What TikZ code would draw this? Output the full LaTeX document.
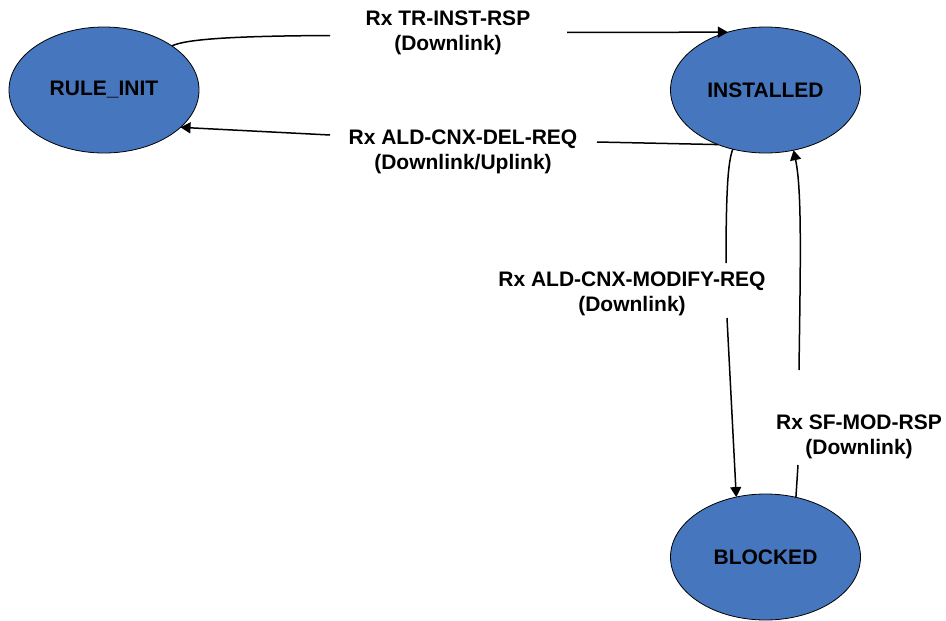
\documentclass[tikz,border=0pt]{standalone}
\usepackage{fontspec}
\setmainfont{Liberation Sans}
\usetikzlibrary{arrows.meta,shapes.geometric}
\definecolor{stateblue}{RGB}{70,119,190}
\begin{document}
\begin{tikzpicture}[x=1pt,y=-1pt,
  state/.style={ellipse,draw=black,line width=0.8pt,fill=stateblue,
    minimum width=190pt,minimum height=126pt,inner sep=0pt,outer sep=0pt,
    font=\bfseries\fontsize{21}{25}\selectfont},
  lbl/.style={align=center,inner sep=0pt,font=\bfseries\fontsize{21}{25}\selectfont},
  link/.style={line width=1.5pt,black},
  arr/.style={link,-{Triangle[length=10pt,width=11pt]}}]
\useasboundingbox (0,0) rectangle (946,621);

% states
\node[state] (ri)   at (104,90)    {RULE\_INIT};
\node[state] (inst) at (765.5,90)  {INSTALLED};
\node[state] (blk)  at (765.5,557) {BLOCKED};

% transition labels
\node[lbl] (l1) at (448,33)  {Rx TR-INST-RSP\\(Downlink)};
\node[lbl] (l2) at (463,152) {Rx ALD-CNX-DEL-REQ\\(Downlink/Uplink)};
\node[lbl] (l3) at (632,294) {Rx ALD-CNX-MODIFY-REQ\\(Downlink)};
\node[lbl] (l4) at (859,437) {Rx SF-MOD-RSP\\(Downlink)};

% ends of the line pieces on either side of each label
\coordinate (a1) at (330,35.5);
\coordinate (b1) at (567,32.5);
\coordinate (a2) at (597,142);
\coordinate (b2) at (330,135);
\coordinate (a3) at (726,263);
\coordinate (b3) at (727,318);
\coordinate (a4) at (798,465);
\coordinate (b4) at (799,370);

% RULE_INIT -> INSTALLED
\draw[link] (ri.33.5) .. controls (186,39) and (235,36) .. (a1);
\draw[arr]  (b1) -- (inst.123.3);

% INSTALLED -> RULE_INIT
\draw[link] (inst.229.2) -- (a2);
\draw[arr]  (b2) -- (ri.334.9);

% INSTALLED -> BLOCKED
\draw[link] (inst.241.6) .. controls (729,160) and (726,178) .. (a3);
\draw[arr]  (b3) -- (blk.116.6);

% BLOCKED -> INSTALLED
\draw[link] (blk.63) -- (a4);
\draw[arr]  (b4) .. controls (800.5,260) and (802,190) .. (inst.295.8);
\end{tikzpicture}
\end{document}
